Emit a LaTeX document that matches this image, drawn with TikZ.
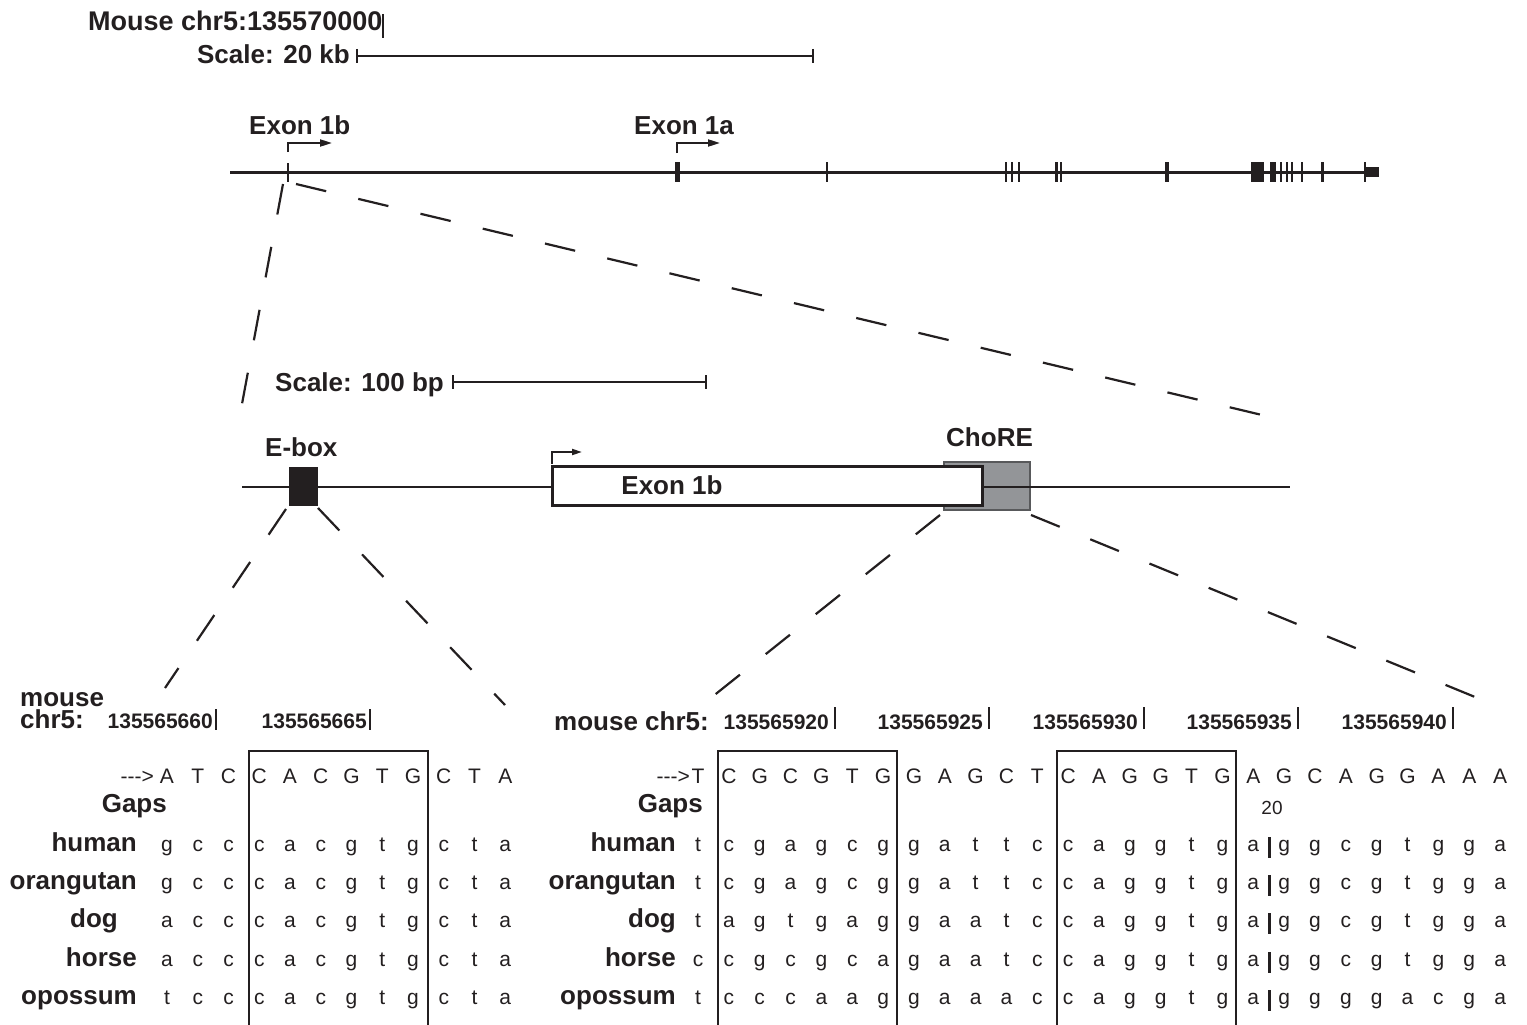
\documentclass[tikz,border=0pt]{standalone}
\usepackage{fontspec}
\setmainfont{Liberation Sans}
\usetikzlibrary{arrows.meta}
\definecolor{ink}{HTML}{231F20}
\definecolor{chore}{HTML}{939598}
\definecolor{choreedge}{HTML}{58595B}
\begin{document}
\begin{tikzpicture}[x=1pt,y=-1pt,
  lab/.style={inner sep=0pt, font=\fontsize{26}{28}\selectfont\bfseries, text=ink},
  num/.style={inner sep=0pt, anchor=base east, font=\fontsize{21}{23}\selectfont\bfseries, text=ink},
  seqch/.style={inner sep=0pt, anchor=base, font=\fontsize{21}{23}\selectfont, text=ink},
  zoomline/.style={draw=ink, line width=2.2pt, dash pattern=on 31pt off 33pt},
  barline/.style={draw=ink, line width=1.6pt},
  tss/.style={draw=ink, line width=2pt, -{Triangle[length=12pt,width=7pt]}},
  boxline/.style={draw=ink, line width=2pt},
  tickline/.style={draw=ink, line width=2pt}
]
\useasboundingbox (0,0) rectangle (1527,1025);

% ---------- top: genome scale ----------
\node[lab, anchor=base west, font=\fontsize{27}{29}\selectfont\bfseries] (mchr) at (88,31) {Mouse chr5:135570000};
\draw[tickline] (383,14) -- (383,38);
\node[lab, anchor=base east] (sc20) at (350,64) {Scale: 20 kb};
\coordinate (s20a) at (357,56);
\coordinate (s20b) at (813,56);
\draw[barline] (s20a) -- (s20b);
\draw[barline] (357,49) -- (357,63);
\draw[barline] (813,49) -- (813,63);

% ---------- gene model ----------
\node[lab, anchor=base west] (e1b) at (249,134) {Exon 1b};
\node[lab, anchor=base west] (e1a) at (634,134) {Exon 1a};
\draw[tss] (288,152) -- (288,143) -- (332,143);
\draw[tss] (677,153) -- (677,143) -- (720,143);
\coordinate (gs) at (230,172);
\coordinate (ge) at (1370,172);
\draw[ink, line width=3pt] (gs) -- (ge);
\draw[ink, line width=1.6pt] (288,163) -- (288,182);
\foreach \x/\w in {677.5/5, 827/2, 1006/2, 1011.5/2, 1018.5/2, 1056.5/3, 1061/1.6,
                   1167/3.5, 1257.5/13, 1273/6, 1281/2, 1286.5/2, 1292/2, 1302/2,
                   1322/3, 1365/2}
  \fill[ink] ({\x-\w/2},162) rectangle ({\x+\w/2},182);
\fill[ink] (1365,167) rectangle (1379,177);

% zoom lines to promoter region
\coordinate (z1a) at (283,184);
\coordinate (z1b) at (242,404);
\coordinate (z2a) at (296,184);
\coordinate (z2b) at (1262,415);
\draw[zoomline] (z1a) -- (z1b);
\draw[zoomline] (z2a) -- (z2b);

% ---------- promoter region ----------
\node[lab, anchor=base west] (sc100) at (275,391) {Scale: 100 bp};
\draw[barline] (453,382) -- (706,382);
\draw[barline] (453,375) -- (453,389);
\draw[barline] (706,375) -- (706,389);

\filldraw[fill=chore, draw=choreedge, line width=2pt] (944,462) rectangle (1030,510);
\coordinate (ms) at (242,487);
\coordinate (me) at (1290,487);
\draw[ink, line width=2.5pt] (ms) -- (me);
\fill[ink] (289,467) rectangle (318,506);
\filldraw[fill=white, draw=ink, line width=3pt] (552,466) rectangle (982,505);
\node[lab, anchor=base] (ex1bm) at (672,494) {Exon 1b};
\node[lab, anchor=base west] (ebox) at (265,456) {E-box};
\node[lab, anchor=base west] (chore) at (946,446) {ChoRE};
\draw[tss, -{Triangle[length=10pt,width=6pt]}] (552,464) -- (552,452) -- (582,452);

% zoom lines to alignments
\coordinate (e1) at (286,509);  \coordinate (e1e) at (165,688);
\coordinate (e2) at (318,508);  \coordinate (e2e) at (505,705);
\coordinate (c1) at (940,515);  \coordinate (c1e) at (712,697);
\coordinate (c2) at (1031,515); \coordinate (c2e) at (1475,697);
\draw[zoomline] (e1) -- (e1e);
\draw[zoomline] (e2) -- (e2e);
\draw[zoomline] (c1) -- (c1e);
\draw[zoomline] (c2) -- (c2e);

% ---------- left alignment (E-box) ----------
\node[lab, anchor=base west, align=left, font=\fontsize{26}{22}\selectfont\bfseries] (mouseL) at (20,728) {mouse\\chr5:};
\node[num] (n660) at (213,728) {135565660};
\draw[tickline] (216,709) -- (216,730);
\node[num] (n665) at (367,728) {135565665};
\draw[tickline] (370,709) -- (370,730);

\node[seqch, anchor=base east] (arrL) at (154,783) {\mbox{-}\mbox{-}\mbox{-}>};
\foreach \s [count=\k from 0] in {A,T,C,C,A,C,G,T,G,C,T,A}
  \node[seqch] (LH\k) at ({167+30.75*\k},783) {\s};
\node[lab, anchor=base east] (gapsL) at (167,812) {Gaps};

\node[lab, anchor=base east] (Lhuman) at (137,851) {human};
\node[lab, anchor=base east] (Lorang) at (137,889) {orangutan};
\node[lab, anchor=base east] (Ldog) at (118,927) {dog};
\node[lab, anchor=base east] (Lhorse) at (137,966) {horse};
\node[lab, anchor=base east] (Lopos) at (137,1004) {opossum};

\foreach \r/\yb/\sq in {a/851/{g,c,c,c,a,c,g,t,g,c,t,a},
                        b/889/{g,c,c,c,a,c,g,t,g,c,t,a},
                        c/927/{a,c,c,c,a,c,g,t,g,c,t,a},
                        d/966/{a,c,c,c,a,c,g,t,g,c,t,a},
                        e/1004/{t,c,c,c,a,c,g,t,g,c,t,a}}
  \foreach \s [count=\k from 0] in \sq
    \node[seqch] (L\r\k) at ({167+30.75*\k},\yb) {\s};

\draw[boxline] (249,1026) -- (249,751) -- (428,751) -- (428,1026);

% ---------- right alignment (ChoRE) ----------
\node[lab, anchor=base west] (mouseR) at (554,730) {mouse chr5:};
\foreach \t/\x in {135565920/835, 135565925/989, 135565930/1144, 135565935/1298, 135565940/1453} {
  \node[num] (n\t) at (\x-6,729) {\t};
  \draw[tickline] (\x,707) -- (\x,729);
}

\node[seqch, anchor=base east] (arrR) at (690,783) {\mbox{-}\mbox{-}\mbox{-}>};
\foreach \s [count=\k from 0] in {T,C,G,C,G,T,G,G,A,G,C,T,C,A,G,G,T,G,A,G,C,A,G,G,A,A,A}
  \node[seqch] (RH\k) at ({698+30.85*\k},783) {\s};
\node[lab, anchor=base east] (gapsR) at (703,812) {Gaps};
\node[seqch, font=\fontsize{19}{21}\selectfont] (twenty) at (1272,814) {20};

\node[lab, anchor=base east] (Rhuman) at (676,851) {human};
\node[lab, anchor=base east] (Rorang) at (676,889) {orangutan};
\node[lab, anchor=base east] (Rdog) at (676,927) {dog};
\node[lab, anchor=base east] (Rhorse) at (676,966) {horse};
\node[lab, anchor=base east] (Ropos) at (676,1004) {opossum};

\foreach \r/\yb/\sq in {a/851/{t,c,g,a,g,c,g,g,a,t,t,c,c,a,g,g,t,g,a,g,g,c,g,t,g,g,a},
                        b/889/{t,c,g,a,g,c,g,g,a,t,t,c,c,a,g,g,t,g,a,g,g,c,g,t,g,g,a},
                        c/927/{t,a,g,t,g,a,g,g,a,a,t,c,c,a,g,g,t,g,a,g,g,c,g,t,g,g,a},
                        d/966/{c,c,g,c,g,c,a,g,a,a,t,c,c,a,g,g,t,g,a,g,g,c,g,t,g,g,a},
                        e/1004/{t,c,c,c,a,a,g,g,a,a,a,c,c,a,g,g,t,g,a,g,g,g,g,a,c,g,a}} {
  \foreach \s [count=\k from 0] in \sq
    \node[seqch] (R\r\k) at ({698+30.85*\k},\yb) {\s};
  \draw[ink, line width=3pt] (1269,\yb-14) -- (1269,\yb+7);
}

\draw[boxline] (718,1026) -- (718,751) -- (897,751) -- (897,1026);
\draw[boxline] (1057,1026) -- (1057,751) -- (1236,751) -- (1236,1026);
\end{tikzpicture}
\end{document}
